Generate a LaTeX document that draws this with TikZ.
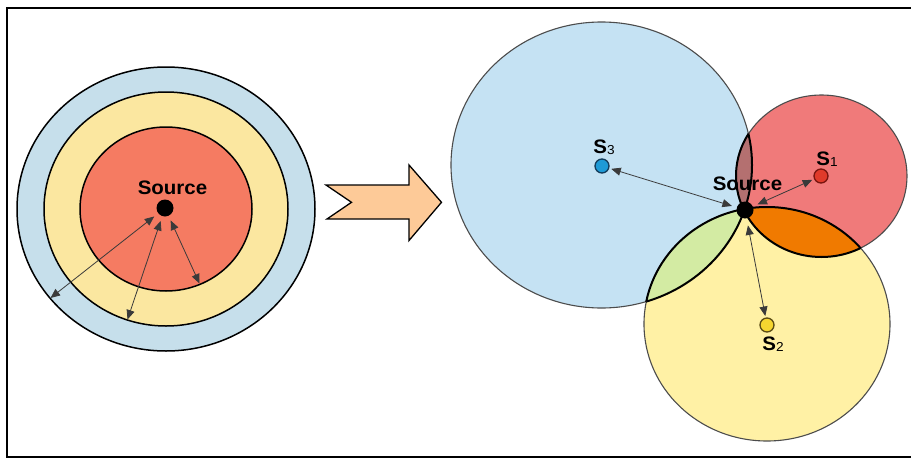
\documentclass[tikz,border=0pt]{standalone}
\usepackage{fontspec}
\setmainfont{Liberation Sans}
\usetikzlibrary{arrows.meta}
\definecolor{lblue}{HTML}{C6DFEB}
\definecolor{lyellow}{HTML}{FBE7A0}
\definecolor{lred}{HTML}{F57B62}
\definecolor{rblue}{HTML}{C5E2F3}
\definecolor{rred}{HTML}{F07A7A}
\definecolor{ryellow}{HTML}{FFF1A5}
\definecolor{lensgreen}{HTML}{D3EBA3}
\definecolor{lensorange}{HTML}{F07A00}
\definecolor{lensmauve}{HTML}{B47070}
\definecolor{bigarrow}{HTML}{FDCA98}
\definecolor{tipgray}{HTML}{3A3A3A}
\definecolor{s3fill}{RGB}{30,154,214}
\definecolor{s3line}{RGB}{20,60,90}
\definecolor{s1fill}{RGB}{224,58,42}
\definecolor{s1line}{RGB}{120,20,15}
\definecolor{s2fill}{RGB}{245,214,48}
\definecolor{s2line}{RGB}{90,75,20}
\newcommand{\wtxt}[1]{\scalebox{1.05}[1]{#1}}
\newcommand{\slab}[1]{\wtxt{\fontsize{19.5}{20}\selectfont\bfseries S\raisebox{-1pt}{\fontsize{13}{13}\mdseries #1}}}
\begin{document}
\begin{tikzpicture}[x=1pt,y=-1pt,
  conn/.style={draw=tipgray, line width=0.8pt, {Triangle[length=9.5pt,width=8pt]}-{Triangle[length=9.5pt,width=8pt]}, tipgray},
  bigdot/.style={circle, fill=black, minimum size=17pt, inner sep=0pt},
  sdot/.style={circle, line width=1.3pt, minimum size=14pt, inner sep=0pt},
  lbl/.style={inner sep=0pt, anchor=base, font=\fontsize{19.5}{20}\selectfont\bfseries},
  ring/.style={draw=black, line width=1.5pt},
  rcirc/.style={draw=black!70, line width=1.1pt},
  lens/.style={draw=black, line width=2pt}
]
\useasboundingbox (0,0) rectangle (911,458);
\fill[white] (0,0) rectangle (911,458);
\draw[line width=2pt] (911,8) -- (7,8) -- (7,457) -- (911,457);

% ---------- left: concentric circles ----------
\draw[ring, fill=lblue] (166,209) ellipse [x radius=149pt, y radius=142pt];
\draw[ring, fill=lyellow] (166,209) ellipse [x radius=122pt, y radius=117pt];
\draw[ring, fill=lred] (166,209) ellipse [x radius=86pt, y radius=82pt];
\node[bigdot] (srcL) at (165,208) {};
\node[lbl] (srcLlab) at (172.5,194) {\wtxt{Source}};
\coordinate (eOut) at (50.5,298);
\coordinate (eMid) at (127.5,319.5);
\coordinate (eIn) at (199.5,283.5);
\draw[conn, shorten <=5pt] (srcL) -- (eOut);
\draw[conn, shorten <=5pt] (srcL) -- (eMid);
\draw[conn, shorten <=5pt] (srcL) -- (eIn);

% ---------- big arrow ----------
\draw[fill=bigarrow, line width=1.3pt, line join=miter]
  (326,185) -- (351.5,202.3) -- (327,219) -- (409,219) -- (409,240.5)
  -- (441.5,202.3) -- (409,165) -- (409,185) -- cycle;

% ---------- right: three circles ----------
\def\bluecirc{(601.5,165) ellipse [x radius=150.5pt, y radius=143pt]}
\def\redcirc{(821.5,176) ellipse [x radius=85.5pt, y radius=81pt]}
\def\yelcirc{(767,324) ellipse [x radius=123pt, y radius=117pt]}
\draw[rcirc, fill=rblue] \bluecirc;
\draw[rcirc, fill=rred] \redcirc;
\draw[rcirc, fill=ryellow] \yelcirc;
% lenses
\begin{scope}\clip \bluecirc; \fill[lensmauve] \redcirc; \end{scope}
\begin{scope}\clip \bluecirc; \fill[lensgreen] \yelcirc; \end{scope}
\begin{scope}\clip \redcirc; \fill[lensorange] \yelcirc; \end{scope}
% lens outlines
\begin{scope}\clip \bluecirc; \draw[lens] \redcirc; \draw[lens] \yelcirc; \end{scope}
\begin{scope}\clip \redcirc; \draw[lens] \bluecirc; \draw[lens] \yelcirc; \end{scope}
\begin{scope}\clip \yelcirc; \draw[lens] \bluecirc; \draw[lens] \redcirc; \end{scope}

\node[bigdot] (srcR) at (745,210) {};
\node[sdot, fill=s3fill, draw=s3line] (s3) at (602,166) {};
\node[sdot, fill=s1fill, draw=s1line] (s1) at (821,176) {};
\node[sdot, fill=s2fill, draw=s2line] (s2) at (767,325) {};

\draw[conn, shorten <=5pt, shorten >=2pt] (srcR) -- (s3);
\draw[conn, shorten <=5pt, shorten >=2pt] (srcR) -- (s1);
\draw[conn, shorten <=7pt, shorten >=1.5pt] (srcR) -- (s2);

\node[lbl] (srcRlab) at (747.5,190.7) {\wtxt{Source}};
\node[inner sep=0pt, anchor=base] (s3lab) at (604,153) {\slab{3}};
\node[inner sep=0pt, anchor=base] (s1lab) at (827,165) {\slab{1}};
\node[inner sep=0pt, anchor=base] (s2lab) at (773,350) {\slab{2}};
\end{tikzpicture}
\end{document}
